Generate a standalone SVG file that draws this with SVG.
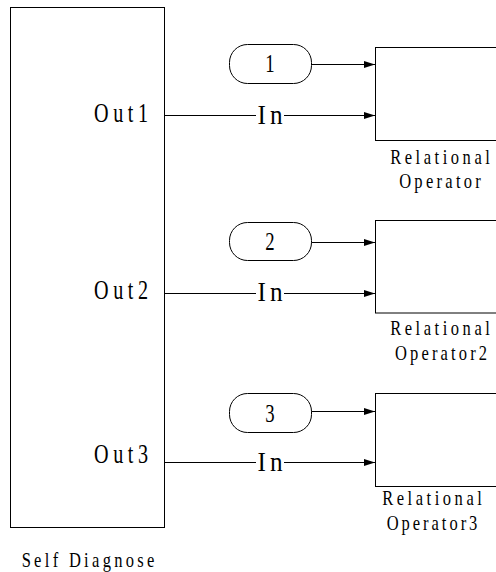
<svg xmlns="http://www.w3.org/2000/svg" width="496" height="572" viewBox="0 0 496 572">
<style>
.box{fill:#fff;stroke:#000;stroke-width:1}
.pill{fill:#fff;stroke:#000;stroke-width:1}
.ln{fill:none;stroke:#000;stroke-width:1}
.big{font-family:"Liberation Serif",serif;font-size:28px;fill:#000}
.dig{font-family:"Liberation Serif",serif;font-size:26px;fill:#000}
.sm{font-family:"Liberation Serif",serif;font-size:22px;fill:#000}
</style>
<defs>
<marker id="ah" viewBox="0 0 11 7" refX="11" refY="3.5" markerWidth="11" markerHeight="7" markerUnits="userSpaceOnUse" orient="auto">
<path d="M0,0 L11,3.5 L0,7 Z" fill="#000"/>
</marker>
</defs>
<rect width="496" height="572" fill="#fff"/>

<g id="connectors">
<line class="ln" x1="311" y1="64.5" x2="375" y2="64.5" marker-end="url(#ah)"/>
<line class="ln" x1="164" y1="115.5" x2="256" y2="115.5"/>
<line class="ln" x1="284" y1="115.5" x2="375" y2="115.5" marker-end="url(#ah)"/>
<line class="ln" x1="311" y1="242.5" x2="375" y2="242.5" marker-end="url(#ah)"/>
<line class="ln" x1="164" y1="293.5" x2="256" y2="293.5"/>
<line class="ln" x1="284" y1="293.5" x2="375" y2="293.5" marker-end="url(#ah)"/>
<line class="ln" x1="311" y1="411.5" x2="375" y2="411.5" marker-end="url(#ah)"/>
<line class="ln" x1="164" y1="462.5" x2="256" y2="462.5"/>
<line class="ln" x1="284" y1="462.5" x2="375" y2="462.5" marker-end="url(#ah)"/>
<text class="big" text-anchor="middle" textLength="28" lengthAdjust="spacing" transform="translate(270,124) scale(0.9,1)">In</text>
<text class="big" text-anchor="middle" textLength="28" lengthAdjust="spacing" transform="translate(270,301) scale(0.9,1)">In</text>
<text class="big" text-anchor="middle" textLength="28" lengthAdjust="spacing" transform="translate(270,471) scale(0.9,1)">In</text>
</g>

<g id="self-diagnose">
<rect class="box" x="10.5" y="7.5" width="154" height="520"/>
<text class="big" text-anchor="end" textLength="75" lengthAdjust="spacing" transform="translate(148,122) scale(0.72,1)">Out1</text>
<text class="big" text-anchor="end" textLength="75" lengthAdjust="spacing" transform="translate(148,298.5) scale(0.72,1)">Out2</text>
<text class="big" text-anchor="end" textLength="75" lengthAdjust="spacing" transform="translate(148,462.5) scale(0.72,1)">Out3</text>
<text class="sm" text-anchor="middle" textLength="177" lengthAdjust="spacing" transform="translate(88,566.5) scale(0.75,1)">Self Diagnose</text>
</g>

<g id="const1">
<rect class="pill" x="229.5" y="44.5" width="82" height="39" rx="18" ry="18"/>
<text class="dig" text-anchor="middle" transform="translate(270,72) scale(0.72,1)">1</text>
</g>
<g id="const2">
<rect class="pill" x="229.5" y="222.5" width="82" height="38" rx="18" ry="18"/>
<text class="dig" text-anchor="middle" transform="translate(270,250) scale(0.72,1)">2</text>
</g>
<g id="const3">
<rect class="pill" x="229.5" y="393.5" width="82" height="39" rx="18" ry="18"/>
<text class="dig" text-anchor="middle" transform="translate(270,421.5) scale(0.72,1)">3</text>
</g>

<g id="relational-operator">
<rect class="box" x="375.5" y="47.5" width="140" height="93"/>
<text class="sm" text-anchor="middle" textLength="133" lengthAdjust="spacing" transform="translate(440,164) scale(0.75,1)">Relational</text>
<text class="sm" text-anchor="middle" textLength="109" lengthAdjust="spacing" transform="translate(440,188) scale(0.75,1)">Operator</text>
</g>
<g id="relational-operator2">
<rect class="box" x="375.5" y="220.5" width="140" height="92.5"/>
<text class="sm" text-anchor="middle" textLength="133" lengthAdjust="spacing" transform="translate(440,335) scale(0.75,1)">Relational</text>
<text class="sm" text-anchor="middle" textLength="123" lengthAdjust="spacing" transform="translate(441,360) scale(0.75,1)">Operator2</text>
</g>
<g id="relational-operator3">
<rect class="box" x="375.5" y="393.5" width="140" height="93"/>
<text class="sm" text-anchor="middle" textLength="133" lengthAdjust="spacing" transform="translate(432,505) scale(0.75,1)">Relational</text>
<text class="sm" text-anchor="middle" textLength="121" lengthAdjust="spacing" transform="translate(432,530) scale(0.75,1)">Operator3</text>
</g>
</svg>
